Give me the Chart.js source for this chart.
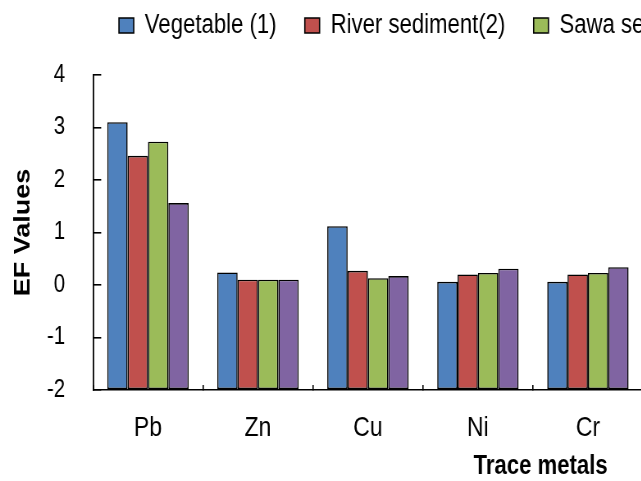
<!DOCTYPE html>
<html>
<head>
<meta charset="utf-8">
<script src="https://cdn.jsdelivr.net/npm/chart.js@4.4.1/dist/chart.umd.min.js"></script>
<style>
  html, body { margin: 0; padding: 0; background: #fff; overflow: hidden; }
  /* the original uses a narrow font: draw wide, then squeeze */
  #wrap { width: 1219px; height: 481px; transform: scaleX(0.82); transform-origin: 0 0; }
</style>
</head>
<body>
<div id="wrap"><canvas id="efChart"></canvas></div>
<script>
const metals = ['Pb', 'Zn', 'Cu', 'Ni', 'Cr'];
const vegetable = [3.10, 0.24, 1.12, 0.06, 0.06];
const riverSediment = [2.46, 0.10, 0.27, 0.20, 0.20];
const sawaSediment = [2.73, 0.10, 0.13, 0.23, 0.23];
const fourthSeries = [1.56, 0.10, 0.17, 0.31, 0.34];
const yTicks = [-2, -1, 0, 1, 2, 3, 4];

const FONT = '"Liberation Sans", Arial, sans-serif';

// Excel style: bars rise from the bottom of the axis (-2)
const barSet = (label, values, color) => ({
    label: label,
    data: values,
    base: yTicks[0],
    backgroundColor: color,
    borderColor: '#000',
    borderWidth: 1.6,
    borderSkipped: false
});

// pushes the plot down below the legend
const legendGap = {
    id: 'legendGap',
    beforeInit(chart) {
        const fit = chart.legend.fit;
        chart.legend.fit = function() {
            fit.bind(chart.legend)();
            this.height += 26;
        };
    }
};

// x title sits right of centre in the original
const xTitle = {
    id: 'xTitle',
    afterDraw(chart) {
        const { ctx, chartArea } = chart;
        ctx.save();
        ctx.font = 'bold 27px ' + FONT;
        ctx.fillStyle = '#000';
        ctx.textAlign = 'right';
        ctx.textBaseline = 'middle';
        ctx.fillText('Trace metals', chartArea.right - 43, chartArea.bottom + 77);
        ctx.restore();
    }
};

new Chart(document.getElementById('efChart').getContext('2d'), {
    type: 'bar',
    data: {
        labels: metals,
        datasets: [
            barSet('Vegetable (1)', vegetable, '#4F81BD'),
            barSet('River sediment(2)', riverSediment, '#C0504D'),
            barSet('Sawa sediment(3)', sawaSediment, '#9BBB59'),
            barSet('Soil (4)', fourthSeries, '#8064A2')
        ]
    },
    options: {
        responsive: true,
        maintainAspectRatio: false,
        animation: false,
        datasets: { bar: { categoryPercentage: 0.74, barPercentage: 1 } },
        layout: { padding: 0 },
        plugins: {
            tooltip: { enabled: false },
            legend: {
                position: 'top',
                labels: {
                    color: '#000',
                    font: { family: FONT, size: 27 },
                    boxWidth: 18,
                    boxHeight: 15,
                    padding: 12,
                    generateLabels: chart => Chart.defaults.plugins.legend.labels.generateLabels(chart)
                        .map(item => ({ ...item, text: item.text + '   ' }))
                }
            }
        },
        scales: {
            x: {
                grid: { drawOnChartArea: false, drawTicks: true, tickLength: -5, color: '#000', lineWidth: 1.6 },
                border: { display: true, color: '#000', width: 1.6 },
                ticks: { color: '#000', font: { family: FONT, size: 28 }, padding: 26 },
                afterFit: scale => { scale.height = 91; }
            },
            y: {
                min: yTicks[0],
                max: yTicks[yTicks.length - 1],
                afterBuildTicks: scale => { scale.ticks = yTicks.map(v => ({ value: v })); },
                grid: { drawOnChartArea: false, drawTicks: true, tickLength: -10, color: '#000', lineWidth: 1.6 },
                border: { display: true, color: '#000', width: 1.8 },
                ticks: { color: '#000', font: { family: FONT, size: 25 }, padding: 44 },
                title: {
                    display: true,
                    text: 'EF Values',
                    color: '#000',
                    font: { family: FONT, size: 27, weight: 'bold' },
                    padding: { top: 12, bottom: 0 }
                },
                afterFit: scale => { scale.width = 113.4; }
            },
            // empty right axis: keeps the plot at the picture's edge
            yRight: {
                position: 'right',
                display: true,
                grid: { display: false },
                border: { display: false },
                ticks: { display: false },
                afterFit: scale => { scale.width = 435; }
            }
        }
    },
    plugins: [legendGap, xTitle]
});
</script>
</body>
</html>
